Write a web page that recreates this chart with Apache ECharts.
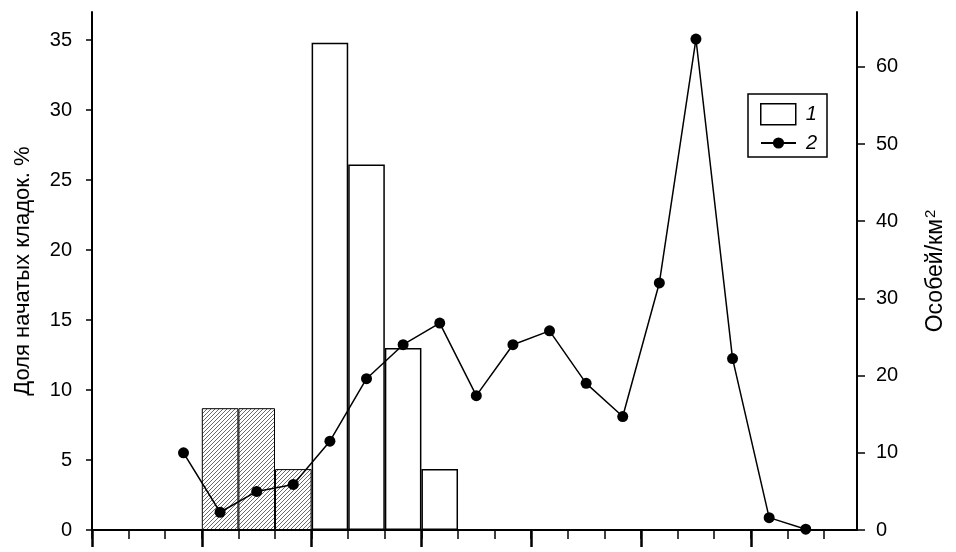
<!DOCTYPE html>
<html><head><meta charset="utf-8">
<script src="https://cdn.jsdelivr.net/npm/echarts@6/dist/echarts.min.js"></script>
<style>html,body{margin:0;padding:0;background:#fff}#c{width:956px;height:552px}</style>
</head><body><div id="c"></div>
<script>
// Bars (series "1"): share of started clutches, %, by 10-day period (left edge index)
const barPeriods = [3, 4, 5, 6, 7, 8, 9];
const barValues = [8.7, 8.7, 4.35, 34.8, 26.1, 13.0, 4.35];
const hatchedBars = [true, true, true, false, false, false, false];
// Line (series "2"): individuals per km², by 10-day period
const linePeriods = [2, 3, 4, 5, 6, 7, 8, 9, 10, 11, 12, 13, 14, 15, 16, 17, 18, 19];
const lineValues = [10.0, 2.3, 5.0, 5.9, 11.5, 19.6, 24.0, 26.8, 17.4, 24.0, 25.8, 19.0, 14.7, 32.0, 63.6, 22.2, 1.6, 0.1];
// Tick labels / tick positions
const leftTicks = [0, 5, 10, 15, 20, 25, 30, 35];
const rightTicks = [0, 10, 20, 30, 40, 50, 60];
const periodTicks = [0,1,2,3,4,5,6,7,8,9,10,11,12,13,14,15,16,17,18,19,20];
const monthTicks = [0, 3, 6, 9, 12, 15, 18];
const seriesNames = ['1', '2'];
const leftTitle = 'Доля начатых кладок. %';
const rightTitle = 'Особей/км{sup|2}';

const FONT = 'Liberation Sans, Arial, sans-serif';

// hatch pattern (diagonal lines)
const pc = document.createElement('canvas');
pc.width = 8; pc.height = 8;
const ctx = pc.getContext('2d');
ctx.fillStyle = '#fff'; ctx.fillRect(0, 0, 8, 8);
ctx.fillStyle = '#6a6a6a';
for (let y = 0; y < 8; y++) for (let x = 0; x < 8; x++) {
  if ((x + y) % 4 === 3) ctx.fillRect(x, y, 1, 1);
}

const barData = barPeriods.map((p, i) => ({
  value: [p + 0.5, barValues[i]],
  itemStyle: hatchedBars[i]
    ? { color: { image: pc, repeat: 'repeat' }, borderColor: '#000', borderWidth: 1 }
    : { color: '#fff', borderColor: '#000', borderWidth: 1.5 }
}));
const lineData = linePeriods.map((p, i) => [p + 0.5, lineValues[i]]);

const chart = echarts.init(document.getElementById('c'), null, { renderer: 'canvas' });
chart.setOption({
  animation: false,
  backgroundColor: '#fff',
  grid: { left: 92, right: 99, top: 12, bottom: 22, outerBoundsMode: 'none' },
  xAxis: [
    {
      type: 'value', position: 'bottom', min: 0, max: 20.9,
      axisLine: { show: true, onZero: false, lineStyle: { color: '#000', width: 2 } },
      axisTick: { show: true, length: 9, customValues: periodTicks, lineStyle: { color: '#000', width: 1.5 } },
      axisLabel: { show: false },
      splitLine: { show: false }
    },
    {
      type: 'value', position: 'bottom', min: 0, max: 20.9,
      axisLine: { show: false, onZero: false },
      axisTick: { show: true, length: 17, customValues: monthTicks, lineStyle: { color: '#000', width: 2.5 } },
      axisLabel: { show: false },
      splitLine: { show: false }
    }
  ],
  yAxis: [
    {
      type: 'value', position: 'left', min: 0, max: 37,
      axisLine: { show: true, onZero: false, lineStyle: { color: '#000', width: 2 } },
      axisTick: { show: true, inside: false, length: 6, customValues: leftTicks, lineStyle: { color: '#000', width: 1.5 } },
      axisLabel: { customValues: leftTicks, fontSize: 20, color: '#000', fontFamily: FONT, margin: 20 },
      splitLine: { show: false },
      name: leftTitle, nameLocation: 'middle', nameGap: 58,
      nameTextStyle: { fontSize: 22, color: '#000', fontFamily: FONT }
    },
    {
      type: 'value', position: 'right', min: 0, max: 67.1,
      axisLine: { show: true, onZero: false, lineStyle: { color: '#000', width: 2 } },
      axisTick: { show: true, inside: false, length: 8, customValues: rightTicks, lineStyle: { color: '#000', width: 1.5 } },
      axisLabel: { customValues: rightTicks, fontSize: 20, color: '#000', fontFamily: FONT, margin: 19 },
      splitLine: { show: false },
      name: rightTitle, nameLocation: 'middle', nameGap: 66,
      nameTextStyle: {
        fontSize: 23, color: '#000', fontFamily: FONT,
        rich: { sup: { fontSize: 15, fontFamily: FONT, color: '#000', padding: [0, 0, 10, 1] } }
      }
    }
  ],
  legend: [
    {
      data: [{ name: seriesNames[0], icon: 'rect', itemStyle: { color: '#fff', borderColor: '#000', borderWidth: 1.5 } }],
      left: 760, top: 103, itemWidth: 35, itemHeight: 21, itemGap: 0, padding: 0,
      textStyle: { fontSize: 20, fontStyle: 'italic', color: '#000', fontFamily: FONT, padding: [0, 0, 0, 5] }
    },
    {
      data: [{ name: seriesNames[1] }],
      left: 760, top: 133, itemWidth: 35, itemHeight: 14, itemGap: 0, padding: 0,
      textStyle: { fontSize: 20, fontStyle: 'italic', color: '#000', fontFamily: FONT, padding: [0, 0, 0, 5] }
    }
  ],
  graphic: [
    { type: 'rect', shape: { x: 748, y: 94, width: 79, height: 63 }, style: { fill: 'none', stroke: '#000', lineWidth: 1.5 }, z: 10 }
  ],
  series: [
    {
      name: seriesNames[0], type: 'bar', xAxisIndex: 0, yAxisIndex: 0,
      barWidth: 36.6, data: barData,
      itemStyle: { color: '#fff', borderColor: '#000', borderWidth: 1.5 },
      z: 2
    },
    {
      name: seriesNames[1], type: 'line', xAxisIndex: 0, yAxisIndex: 1,
      data: lineData, symbol: 'circle', symbolSize: 11,
      lineStyle: { color: '#000', width: 1.5 },
      itemStyle: { color: '#000' },
      z: 5
    }
  ]
});
</script>
</body></html>
